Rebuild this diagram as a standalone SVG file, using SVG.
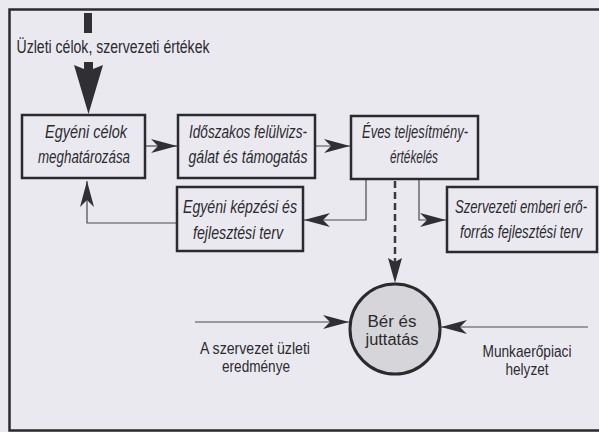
<svg xmlns="http://www.w3.org/2000/svg" width="599" height="432" viewBox="0 0 599 432">
  <style>
    .bg { fill: #ebe9f0; }
    .frame { fill: none; stroke: #2b2b2e; stroke-width: 2.5; }
    .box { fill: none; stroke: #2b2b2e; stroke-width: 2.5; }
    .lbl { font-family: "Liberation Sans", Arial, sans-serif; font-size: 18px; font-style: italic; fill: #2b2b2e; text-anchor: middle; }
    .up { font-family: "Liberation Sans", Arial, sans-serif; font-size: 16px; fill: #2b2b2e; text-anchor: middle; }
    .top { font-size: 18px; }
    .thin { fill: none; stroke: #4a4a4e; stroke-width: 1.2; }
    .dash { fill: none; stroke: #3a3a3e; stroke-width: 2.5; stroke-dasharray: 7 4; }
    .head { fill: #303034; }
  </style>
  <defs>
    <marker id="dart" markerUnits="userSpaceOnUse" markerWidth="28" markerHeight="14" refX="26" refY="7" orient="auto" viewBox="0 0 28 14">
      <path class="head" d="M0,0 L26,7 L0,14 L7,7 Z"/>
    </marker>
  </defs>

  <rect class="bg" x="0" y="0" width="599" height="432"/>
  <path class="frame" d="M603,9.5 H9.5 V430.5 H603"/>

  <!-- connectors -->
  <g id="connectors">
    <!-- incoming business goals: thick arrow -->
    <rect class="head" x="84" y="13" width="8" height="20"/>
    <path class="head" d="M84,62 H93 V69 L103,65 L88.5,114 L74,65 L84,69 Z"/>
    <!-- goals -> review -->
    <line class="thin" x1="146" y1="146" x2="177" y2="146" marker-end="url(#dart)"/>
    <!-- review -> appraisal -->
    <line class="thin" x1="315" y1="146" x2="350" y2="146" marker-end="url(#dart)"/>
    <!-- appraisal -> individual development plan -->
    <polyline class="thin" points="366,180 366,220 304,220" marker-end="url(#dart)"/>
    <!-- appraisal -> organisational HR plan -->
    <polyline class="thin" points="419,180 419,220 446,220" marker-end="url(#dart)"/>
    <!-- individual development plan -> goals -->
    <polyline class="thin" points="177,223 87,223 87,181" marker-end="url(#dart)"/>
    <!-- appraisal -> pay (dashed) -->
    <line class="dash" x1="395" y1="181" x2="395" y2="262"/>
    <path class="head" d="M388,258 L395,262 L402,258 L395,283 Z"/>
    <!-- business results -> pay -->
    <line class="thin" x1="195" y1="322" x2="349" y2="322" marker-end="url(#dart)"/>
    <!-- labour market -> pay -->
    <line class="thin" x1="588" y1="327" x2="441" y2="327" marker-end="url(#dart)"/>
  </g>

  <text class="up top" x="113" y="53" textLength="193" lengthAdjust="spacingAndGlyphs">Üzleti célok, szervezeti értékek</text>

  <g id="goals">
    <rect class="box" x="22" y="115" width="123" height="63"/>
    <text class="lbl" x="86" y="138" textLength="82" lengthAdjust="spacingAndGlyphs">Egyéni célok</text>
    <text class="lbl" x="84" y="163" textLength="92" lengthAdjust="spacingAndGlyphs">meghatározása</text>
  </g>

  <g id="review">
    <rect class="box" x="178" y="115" width="137" height="63"/>
    <text class="lbl" x="248" y="138" textLength="118" lengthAdjust="spacingAndGlyphs">Időszakos felülvizs-</text>
    <text class="lbl" x="248" y="163" textLength="119" lengthAdjust="spacingAndGlyphs">gálat és támogatás</text>
  </g>

  <g id="appraisal">
    <rect class="box" x="351" y="116" width="127" height="63"/>
    <text class="lbl" x="415" y="138" textLength="106" lengthAdjust="spacingAndGlyphs">Éves teljesítmény-</text>
    <text class="lbl" x="414" y="163" textLength="48" lengthAdjust="spacingAndGlyphs">értékelés</text>
  </g>

  <g id="individual-plan">
    <rect class="box" x="177" y="187" width="126" height="64"/>
    <text class="lbl" x="240" y="213" textLength="114" lengthAdjust="spacingAndGlyphs">Egyéni képzési és</text>
    <text class="lbl" x="238" y="239" textLength="90" lengthAdjust="spacingAndGlyphs">fejlesztési terv</text>
  </g>

  <g id="hr-plan">
    <rect class="box" x="447" y="187" width="150" height="65"/>
    <!-- narrow lines: squeezed horizontally so they sit inside the box -->
    <text class="lbl" transform="translate(521,213) scale(0.73,1)" x="0" y="0">Szervezeti emberi erő-</text>
    <text class="lbl" transform="translate(521,238) scale(0.74,1)" x="0" y="0">forrás fejlesztési terv</text>
  </g>

  <g id="pay">
    <circle cx="395" cy="329" r="45" fill="#d6d5da" stroke="#2b2b2e" stroke-width="3"/>
    <text class="up" x="392" y="327" textLength="49" lengthAdjust="spacingAndGlyphs">Bér és</text>
    <text class="up" x="392" y="345" textLength="53" lengthAdjust="spacingAndGlyphs">juttatás</text>
  </g>

  <g id="business-results">
    <text class="up" x="255" y="354" textLength="110" lengthAdjust="spacingAndGlyphs">A szervezet üzleti</text>
    <text class="up" x="256" y="372" textLength="68" lengthAdjust="spacingAndGlyphs">eredménye</text>
  </g>

  <g id="labour-market">
    <text class="up" x="527" y="357" textLength="89" lengthAdjust="spacingAndGlyphs">Munkaerőpiaci</text>
    <text class="up" x="527" y="375" textLength="43" lengthAdjust="spacingAndGlyphs">helyzet</text>
  </g>
</svg>
